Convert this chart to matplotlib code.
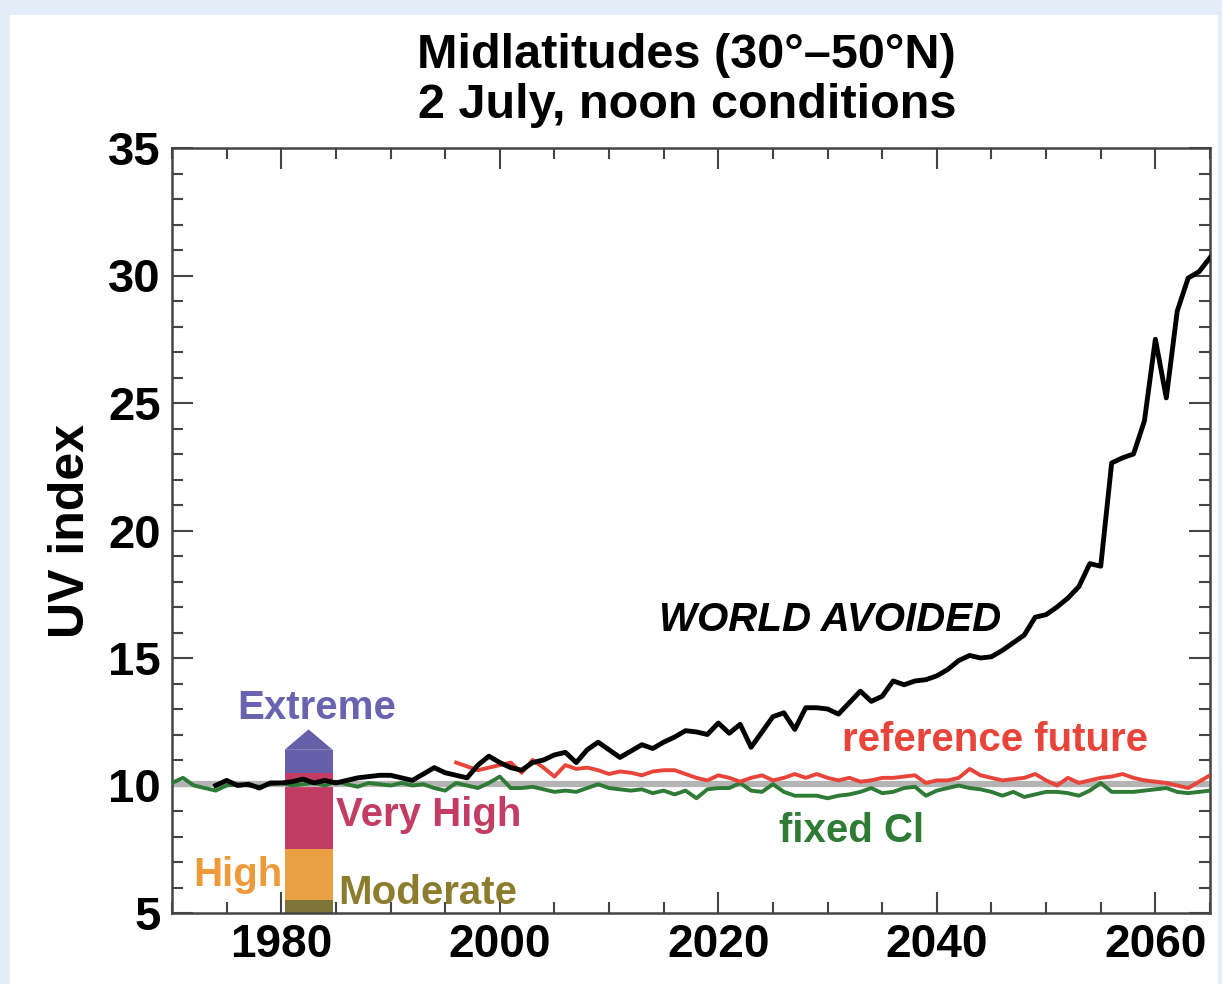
import numpy as np
import matplotlib
matplotlib.use("Agg")
import matplotlib.pyplot as plt
from matplotlib.patches import Rectangle
from matplotlib.ticker import MultipleLocator

plt.rcParams["font.family"] = ["Liberation Sans", "DejaVu Sans"]
plt.rcParams["font.weight"] = "bold"

# WORLD AVOIDED (black), 1974-2065
wa_years = list(range(1974, 2066))
wa_uv = [10.0, 10.2, 10.0, 10.05, 9.9, 10.1, 10.1, 10.15, 10.25, 10.1,
         10.2, 10.1, 10.2, 10.3, 10.35, 10.4, 10.4, 10.3, 10.2, 10.45,
         10.7, 10.5, 10.4, 10.3, 10.8, 11.15, 10.9, 10.7, 10.6, 10.9,
         11.0, 11.2, 11.3, 10.9, 11.4, 11.7, 11.4, 11.1, 11.35, 11.6,
         11.45, 11.7, 11.9, 12.15, 12.1, 12.0, 12.45, 12.05, 12.4, 11.5,
         12.1, 12.7, 12.85, 12.2, 13.05, 13.05, 13.0, 12.8, 13.25, 13.7,
         13.3, 13.5, 14.1, 13.95, 14.1, 14.15, 14.3, 14.55, 14.9, 15.1,
         15.0, 15.05, 15.3, 15.6, 15.9, 16.6, 16.7, 17.0, 17.35, 17.8,
         18.7, 18.6, 22.65, 22.85, 23.0, 24.3, 27.5, 25.2, 28.6, 29.9,
         30.15, 30.7]

# reference future (red), 1996-2065
ref_years = list(range(1996, 2066))
ref_uv = [10.9, 10.75, 10.6, 10.7, 10.8, 10.9, 10.5, 11.0, 10.7, 10.35,
          10.8, 10.65, 10.7, 10.6, 10.45, 10.55, 10.5, 10.4, 10.55, 10.6,
          10.6, 10.45, 10.3, 10.2, 10.4, 10.3, 10.15, 10.3, 10.4, 10.2,
          10.3, 10.45, 10.3, 10.45, 10.3, 10.2, 10.3, 10.15, 10.2, 10.3,
          10.3, 10.35, 10.4, 10.1, 10.2, 10.2, 10.3, 10.65, 10.4, 10.3,
          10.2, 10.25, 10.3, 10.45, 10.2, 10.0, 10.3, 10.1, 10.2, 10.3,
          10.35, 10.45, 10.3, 10.2, 10.15, 10.1, 10.0, 9.9, 10.15, 10.4]

# fixed Cl (green), 1970-2065
fix_years = list(range(1970, 2066))
fix_uv = [10.1, 10.3, 10.0, 9.9, 9.8, 10.0, 10.05, 10.0, 9.95, 10.05,
          10.1, 10.0, 10.05, 10.1, 10.0, 10.15, 10.05, 9.95, 10.1, 10.05,
          10.0, 10.1, 10.0, 10.05, 9.9, 9.8, 10.1, 10.0, 9.9, 10.1,
          10.35, 9.9, 9.9, 9.95, 9.85, 9.75, 9.8, 9.75, 9.9, 10.05,
          9.9, 9.85, 9.8, 9.85, 9.7, 9.8, 9.65, 9.8, 9.5, 9.85,
          9.9, 9.9, 10.1, 9.8, 9.75, 10.05, 9.75, 9.6, 9.6, 9.6,
          9.5, 9.6, 9.65, 9.75, 9.9, 9.7, 9.75, 9.9, 9.95, 9.6,
          9.8, 9.9, 10.0, 9.9, 9.85, 9.75, 9.6, 9.75, 9.55, 9.65,
          9.75, 9.75, 9.7, 9.6, 9.8, 10.1, 9.75, 9.75, 9.75, 9.8,
          9.85, 9.9, 9.75, 9.7, 9.75, 9.8]

baseline_uv = 10.05

# UV category scale bar
cat_names = ["Moderate", "High", "Very High", "Extreme"]
cat_lower = [3.0, 5.5, 7.5, 10.5]
cat_upper = [5.5, 7.5, 10.5, 11.4]
cat_colors = ["#7e7638", "#e9a043", "#c33c64", "#6560a8"]
cat_text_colors = ["#8c7d2e", "#ee9a3a", "#c33c64", "#6a64b0"]
extreme_tip = 12.2
bar_center = 1982.5
bar_width = 4.4

fig = plt.figure(figsize=(12.22, 9.84), dpi=100)
fig.patch.set_facecolor("#e4eef8")
fig.add_artist(Rectangle((10 / 1222, 0), 1 - 14 / 1222, 1 - 15 / 984,
                         transform=fig.transFigure, facecolor="white",
                         edgecolor="none", zorder=0))

ax = fig.add_axes([172 / 1222, 71 / 984, 1038 / 1222, 765 / 984])

# scale bar
for lo, hi, c in zip(cat_lower, cat_upper, cat_colors):
    ax.bar(bar_center, hi - lo, bottom=lo, width=bar_width, color=c,
           edgecolor="none", zorder=1)
x0 = bar_center - bar_width / 2
x1 = bar_center + bar_width / 2
ax.fill([x0, bar_center, x1], [cat_upper[-1], extreme_tip, cat_upper[-1]],
        color=cat_colors[-1], edgecolor="none", zorder=1)

ax.axhline(baseline_uv, color="#b4b4b4", lw=4.5, zorder=2)
ax.plot(fix_years, fix_uv, color="#2e7b36", lw=2.8, zorder=3)
ax.plot(ref_years, ref_uv, color="#e8443a", lw=2.8, zorder=3)
ax.plot(wa_years, wa_uv, color="black", lw=3.5, zorder=4)

ax.set_xlim(1970, 2065)
ax.set_ylim(5, 35)
ax.xaxis.set_major_locator(MultipleLocator(20))
ax.xaxis.set_minor_locator(MultipleLocator(5))
ax.yaxis.set_major_locator(MultipleLocator(5))
ax.yaxis.set_minor_locator(MultipleLocator(1))
ax.tick_params(which="both", direction="in", top=True, right=True,
               color="#444444", width=1.5)
ax.tick_params(axis="x", labelsize=33, pad=7)
ax.tick_params(axis="y", labelsize=34, pad=8)
ax.tick_params(which="major", length=15)
ax.tick_params(which="minor", length=8)
for lab in ax.get_xticklabels() + ax.get_yticklabels():
    lab.set_fontweight("bold")
for sp in ax.spines.values():
    sp.set_color("#444444")
    sp.set_linewidth(1.8)

ax.set_ylabel("UV index", fontsize=36, fontweight="bold", labelpad=10)

ax.text(2030.2, 16.5, "WORLD AVOIDED", fontsize=29, fontweight="bold",
        style="italic", ha="center", va="center", color="black")
ax.text(2045.3, 11.8, "reference future", fontsize=29, fontweight="bold",
        ha="center", va="center", color="#e8443a")
ax.text(2032.2, 8.2, "fixed Cl", fontsize=29, fontweight="bold",
        ha="center", va="center", color="#2e7b36")

ax.text(1983.2, 13.05, cat_names[3], fontsize=29, fontweight="bold",
        ha="center", va="center", color=cat_text_colors[3])
ax.text(1985.0, 8.85, cat_names[2], fontsize=29, fontweight="bold",
        ha="left", va="center", color=cat_text_colors[2])
ax.text(1971.9, 6.5, cat_names[1], fontsize=29, fontweight="bold",
        ha="left", va="center", color=cat_text_colors[1])
ax.text(1985.2, 5.8, cat_names[0], fontsize=29, fontweight="bold",
        ha="left", va="center", color=cat_text_colors[0])

fig.text(0.562, 0.944, "Midlatitudes (30\u00b0\u201350\u00b0N)",
         fontsize=35, fontweight="bold", ha="center", va="center")
fig.text(0.562, 0.893, "2 July, noon conditions", fontsize=35,
         fontweight="bold", ha="center", va="center")

fig.savefig("out.png", dpi=100)
